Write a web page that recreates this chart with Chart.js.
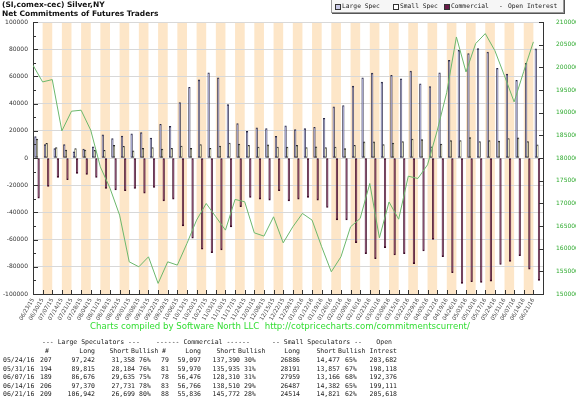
<!DOCTYPE html>
<html>
<head>
<meta charset="utf-8">
<script src="https://cdn.jsdelivr.net/npm/chart.js@4.4.1/dist/chart.umd.min.js"></script>
<style>
body { margin: 0; background: #fff; }
#wrap { position: relative; width: 576px; height: 397px; overflow: hidden; background: #fff; }
#c { position: absolute; left: 0; top: 0; }
.t { position: absolute; white-space: pre; }
#title { left: 2px; top: 0px; font: bold 7.5px 'DejaVu Sans'; line-height: 9px; color: #111; }
#legend { position: absolute; left: 331px; top: -1px; width: 231px; height: 12px; background: #f6f6f6;
  border: 1px solid #999; box-shadow: 1px 1px 0 #555; font: 6.3px 'DejaVu Sans Mono'; color: #222; white-space: nowrap; }
#legend .sq { position: absolute; top: 4px; width: 4px; height: 4px; border: 1px solid #333; }
#legend .lb { position: absolute; top: 2px; line-height: 8px; white-space: nowrap; }
#footer { left: 0; width: 560px; top: 321px; text-align: center; font: 8.6px 'DejaVu Sans'; color: #33dd33; }
#tbl .t { font: 6.5px 'DejaVu Sans Mono'; line-height: 8px; color: #222; }
</style>
</head>
<body>
<div id="wrap">
  <canvas id="c" width="576" height="397"></canvas>
  <div class="t" id="title">(SI,comex-cec) Silver,NY
Net Commitments of Futures Traders</div>
  <div id="legend">
    <span class="sq" style="left:3px;background:#c9c9e6"></span><span class="lb" style="left:10px">Large Spec</span>
    <span class="sq" style="left:61px;background:#fff"></span><span class="lb" style="left:68px">Small Spec</span>
    <span class="sq" style="left:112px;background:#6a1a48"></span><span class="lb" style="left:119px">Commercial</span>
    <span class="lb" style="left:167px">-</span><span class="lb" style="left:176px">Open Interest</span>
  </div>
  <div class="t" id="footer">Charts compiled by Software North LLC  http://cotpricecharts.com/commitmentscurrent/</div>
  <div id="tbl"></div>
</div>
<script>
// weekly report dates (x tick labels)
const dates = ['06/23/15','06/30/15','07/07/15','07/14/15','07/21/15','07/28/15','08/04/15','08/11/15','08/18/15','08/25/15',
  '09/01/15','09/08/15','09/15/15','09/22/15','09/29/15','10/06/15','10/13/15','10/20/15','10/27/15','11/03/15',
  '11/10/15','11/17/15','11/24/15','12/01/15','12/08/15','12/15/15','12/22/15','12/29/15','01/05/16','01/12/16',
  '01/19/16','01/26/16','02/02/16','02/09/16','02/16/16','02/23/16','03/01/16','03/08/16','03/15/16','03/22/16',
  '03/29/16','04/05/16','04/12/16','04/19/16','04/26/16','05/03/16','05/10/16','05/17/16','05/24/16','05/31/16',
  '06/07/16','06/14/16','06/21/16'];

// net positions
const largeSpec = [15700,9800,6900,9800,4600,6600,8300,17000,14200,16200,
  17700,18700,14700,24800,23300,40800,52000,57500,62700,59000,
  39300,25300,19600,22100,21600,15900,23600,20900,21600,22600,
  29200,37600,38600,52800,59000,62400,55800,60700,58300,63900,
  54600,52600,62700,71800,79100,76700,80400,77900,65884,61631,
  57041,69639,80243];
const smallSpec = [14000,10800,7600,5900,6900,5900,5600,5600,9300,8600,
  5200,7100,7600,6600,7100,8800,7100,9800,7100,8800,
  11000,10300,9300,8100,9600,8100,8100,9300,7600,8300,
  7600,8100,6900,9300,11800,11800,9800,11000,12000,14000,
  13500,8300,10300,12800,12800,15000,12000,12800,12409,14334,
  14793,12105,9693];
const commercial = [-29500,-20900,-14300,-16000,-11300,-12000,-14300,-22400,-23400,-24100,
  -22400,-25800,-21700,-31500,-30200,-49900,-59000,-67100,-69600,-67600,
  -50700,-35700,-29000,-30200,-31000,-24100,-31500,-30200,-29000,-31000,
  -36400,-45500,-45500,-62200,-70300,-74000,-65900,-71300,-70300,-77700,
  -68400,-59800,-72500,-84300,-92200,-91000,-91500,-90500,-78293,-75965,
  -71834,-81744,-89936];
const openInterest = [200460,196780,197300,185980,190320,190540,186130,178040,173350,167400,
  157100,156000,158200,152340,157100,156370,161160,166300,169970,167030,
  164090,170860,170340,163490,162770,167030,161290,164820,167770,166300,
  160410,154900,158200,164820,166670,174380,162400,170300,166500,175990,
  175480,178500,186000,194500,206700,198980,205240,207440,203682,198118,
  192376,199111,205618];

// table at the bottom
const tDates = ['05/24/16','05/31/16','06/07/16','06/14/16','06/21/16'];
const lsCount = [207,194,189,206,209];
const lsLong = [97242,89815,86676,97370,106942];
const lsShort = [31358,28184,29635,27731,26699];
const lsBull = [76,76,75,78,80];
const cmCount = [79,81,78,83,88];
const cmLong = [59097,59970,56476,56766,55836];
const cmShort = [137390,135935,128310,138510,145772];
const cmBull = [30,31,31,29,28];
const ssLong = [26886,28191,27959,26487,24514];
const ssShort = [14477,13857,13166,14382,14821];
const ssBull = [65,67,68,65,62];
const tOpen = [203682,198118,192376,199111,205618];

const tbl = document.getElementById('tbl');
function cell(txt, x, y, right) {
  const s = document.createElement('span');
  s.className = 't';
  s.textContent = txt;
  s.style.top = (y - 4) + 'px';
  if (right) s.style.right = (576 - x) + 'px'; else s.style.left = x + 'px';
  tbl.appendChild(s);
}
const fmt = n => n.toLocaleString('en-US');
cell('--- Large Speculators ---', 42, 342);
cell('------ Commercial ------', 156, 342);
cell('-- Small Speculators --', 272, 342);
cell('Open', 392, 342, true);
cell('#', 45, 351); cell('Long', 95, 351, true); cell('Short', 129, 351, true); cell('Bullish', 131, 351);
cell('#', 162, 351); cell('Long', 201, 351, true); cell('Short', 236, 351, true); cell('Bullish', 238, 351);
cell('Long', 300, 351, true); cell('Short', 336, 351, true); cell('Bullish', 338, 351);
cell('Intrest', 397, 351, true);
tDates.forEach((d, i) => {
  const y = 360 + i * 8.5;
  cell(d, 3, y);
  cell(String(lsCount[i]), 40, y);
  cell(fmt(lsLong[i]), 95, y, true);
  cell(fmt(lsShort[i]), 135, y, true);
  cell(lsBull[i] + '%', 139, y);
  cell(String(cmCount[i]), 161, y);
  cell(fmt(cmLong[i]), 201, y, true);
  cell(fmt(cmShort[i]), 240, y, true);
  cell(cmBull[i] + '%', 244, y);
  cell(String(ssLong[i]), 300, y, true);
  cell(fmt(ssShort[i]), 340, y, true);
  cell(ssBull[i] + '%', 345, y);
  cell(fmt(tOpen[i]), 397, y, true);
});

// orange stripes behind every other week
const stripes = {
  id: 'stripes',
  beforeDraw(chart) {
    const { ctx, chartArea: a, scales: { x } } = chart;
    const w = (a.right - a.left) / dates.length;
    ctx.save();
    ctx.fillStyle = '#fde6c8';
    for (let i = 1; i < dates.length; i += 2) {
      const cx = x.getPixelForValue(i);
      ctx.fillRect(cx - w / 2, a.top, w, a.bottom - a.top);
    }
    ctx.restore();
  }
};

// little tick marks pointing into the plot
const innerTicks = {
  id: 'innerTicks',
  afterDraw(chart) {
    const { ctx, chartArea: a, scales: { x, y, y2 } } = chart;
    const w = (a.right - a.left) / dates.length;
    ctx.save();
    ctx.strokeStyle = '#333';
    ctx.lineWidth = 1;
    ctx.beginPath();
    for (let i = 0; i <= dates.length; i++) {
      const px = Math.round(x.getPixelForValue(i) - w / 2) + 0.5;
      ctx.moveTo(px, a.bottom); ctx.lineTo(px, a.bottom - 4);
    }
    for (let v = -100000; v <= 100000; v += 10000) {
      const py = Math.round(y.getPixelForValue(v)) + 0.5;
      ctx.moveTo(a.left, py); ctx.lineTo(a.left + (v % 20000 === 0 ? 5 : 3), py);
    }
    for (let v = 150000; v <= 210000; v += 5000) {
      const py = Math.round(y2.getPixelForValue(v)) + 0.5;
      ctx.moveTo(a.right, py); ctx.lineTo(a.right - 4, py);
    }
    ctx.stroke();
    ctx.restore();
  }
};

new Chart(document.getElementById('c'), {
  data: {
    labels: dates,
    datasets: [
      { type: 'line', label: 'Open Interest', data: openInterest.map((v, i) => ({ x: i, y: v })),
        xAxisID: 'xl', yAxisID: 'y2', borderColor: '#6cb86c', borderWidth: 1, pointRadius: 0, tension: 0, order: 0 },
      { type: 'bar', label: 'Large Spec', data: largeSpec, backgroundColor: '#9c9cd2', borderColor: '#2a2a44',
        borderWidth: 1, borderSkipped: false, categoryPercentage: 1, barPercentage: 1, order: 1 },
      { type: 'bar', label: 'Small Spec', data: smallSpec, backgroundColor: '#ffffc8', borderColor: '#2a2a2a',
        borderWidth: 1, borderSkipped: false, categoryPercentage: 1, barPercentage: 1, order: 1 },
      { type: 'bar', label: 'Commercial', data: commercial, backgroundColor: '#6a1a48', borderColor: '#3a0a24',
        borderWidth: 1, borderSkipped: false, categoryPercentage: 1, barPercentage: 1, order: 1 }
    ]
  },
  options: {
    responsive: false,
    animation: false,
    layout: { padding: { top: 22, left: 0, right: 0, bottom: 0 } },
    plugins: { legend: { display: false }, tooltip: { enabled: false } },
    scales: {
      x: {
        type: 'category', offset: true,
        grid: { drawOnChartArea: false, drawTicks: false },
        border: { color: '#333' },
        ticks: { autoSkip: false, minRotation: 60, maxRotation: 60, labelOffset: -4.8, padding: 3,
          color: '#444', font: { family: 'DejaVu Sans', size: 5.5 } },
        afterFit: s => { s.height = 103; }
      },
      xl: { type: 'linear', display: false, min: 0, max: dates.length },
      y: {
        position: 'left', min: -100000, max: 100000,
        grid: { color: '#d8d8d8', drawTicks: false },
        border: { color: '#333' },
        ticks: { stepSize: 20000, padding: 5, color: '#333', font: { family: 'DejaVu Sans', size: 6 },
          callback: v => String(v) },
        afterFit: s => { s.width = 33; }
      },
      y2: {
        position: 'right', min: 150000, max: 210000,
        grid: { display: false },
        border: { color: '#333' },
        ticks: { stepSize: 5000, padding: 5, color: '#2eaa2e', font: { family: 'DejaVu Sans', size: 6 },
          callback: v => String(v) },
        afterFit: s => { s.width = 33; }
      }
    }
  },
  plugins: [stripes, innerTicks]
});
</script>
</body>
</html>
